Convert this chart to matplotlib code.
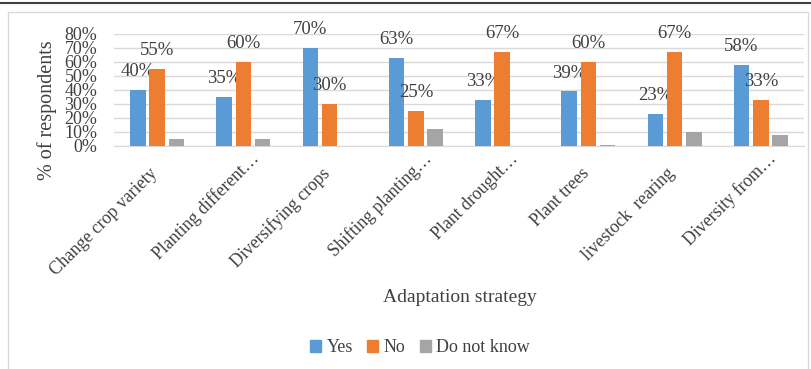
import matplotlib
matplotlib.use("Agg")
import matplotlib.pyplot as plt
from matplotlib.patches import Rectangle
from matplotlib.lines import Line2D
import matplotlib.transforms as mtransforms
import numpy as np

categories = ["Change crop variety", "Planting different\u2026", "Diversifying crops",
              "Shifting planting\u2026", "Plant drought\u2026", "Plant trees",
              "livestock  rearing", "Diversity from\u2026"]
yes = [40, 35, 70, 63, 33, 39, 23, 58]
no = [55, 60, 30, 25, 67, 60, 67, 33]
dont_know = [5, 5, 0, 12, 0, 1, 10, 8]
series_names = ["Yes", "No", "Do not know"]
colors = ["#5B9BD5", "#ED7D31", "#A5A5A5"]
yticks = [0, 10, 20, 30, 40, 50, 60, 70, 80]

plt.rcParams['font.family'] = ['Liberation Serif', 'DejaVu Serif']

W, H = 812, 369
fig = plt.figure(figsize=(W/100, H/100), dpi=100)

# page line and chart border
fig.add_artist(Line2D([0, 1], [1-3/H, 1-3/H], transform=fig.transFigure, color="#404040", lw=1.5))
fig.add_artist(Rectangle((8/W, -0.01), (808-8)/W, (H-12)/H + 0.01, transform=fig.transFigure,
                         fill=False, edgecolor="#D9D9D9", lw=1))

ax = fig.add_axes([114/W, 1-146/H, 690/W, 112/H])
x = np.arange(len(categories))
step = 0.224
width = 0.18
data = [yes, no, dont_know]
for k, (vals, name, c) in enumerate(zip(data, series_names, colors)):
    pos = x + (k-1)*step
    ax.bar(pos, vals, width=width, color=c, label=name, zorder=3)
    if k < 2:
        for p, v in zip(pos, vals):
            ax.annotate(f"{v}%", (p, v), xytext=(0, 10), textcoords="offset points",
                        ha="center", va="baseline", fontsize=13.5, color="#404040",
                        annotation_clip=False)

ax.set_xlim(-0.5, len(categories)-0.5)
ax.set_ylim(0, 80)
ax.set_yticks(yticks)
ax.set_yticklabels([f"{t}%" for t in yticks], fontsize=13, color="#404040")
ax.yaxis.grid(True, color="#D9D9D9", lw=1, zorder=0)
ax.tick_params(axis='y', length=0, pad=12)
ax.tick_params(axis='x', length=0, pad=4)
for s in ["top", "right", "left"]:
    ax.spines[s].set_visible(False)
ax.spines["bottom"].set_color("#D9D9D9")
ax.set_xticks(x)
ax.set_xticklabels(categories, rotation=45, ha="right", va="center", rotation_mode="anchor",
                   fontsize=12.8, color="#404040")
for lbl in ax.get_xticklabels():
    if lbl.get_text().endswith("\u2026"):
        dx, dy = 9.4, -3.3
    else:
        dx, dy = -1.5, -14
    off = mtransforms.ScaledTranslation(dx/72, dy/72, fig.dpi_scale_trans)
    lbl.set_transform(lbl.get_transform() + off)

fig.text(47/W, 1-110/H, "% of respondents", rotation=90, ha="center", va="center",
         fontsize=14.5, color="#404040")
fig.text(460/W, 1-297/H, "Adaptation strategy", ha="center", va="center", fontsize=14, color="#404040")

handles = [Rectangle((0, 0), 1, 1, color=c) for c in colors]
fig.legend(handles, series_names, loc="center", bbox_to_anchor=(420/W, 1-348/H), ncol=3,
           frameon=False, fontsize=13, handlelength=0.6, handleheight=0.6, handletextpad=0.3,
           columnspacing=0.8, labelcolor="#404040")

fig.savefig("out.png", dpi=100)
